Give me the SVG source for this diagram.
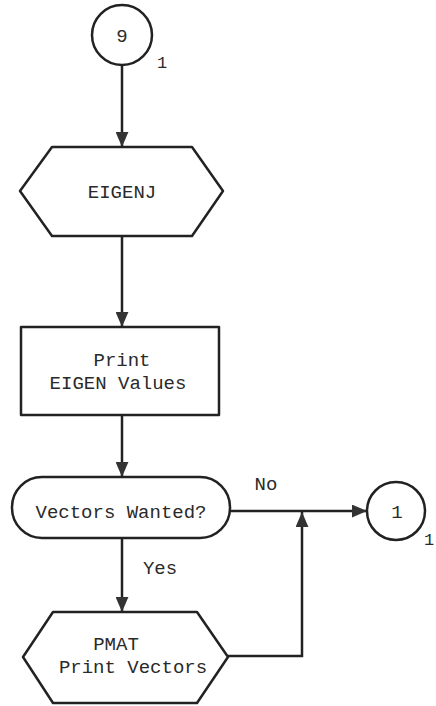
<svg xmlns="http://www.w3.org/2000/svg" width="436" height="706" viewBox="0 0 436 706">
<style>
.s{fill:#fff;stroke:#222;stroke-width:2.5;stroke-linejoin:round}
.l{fill:none;stroke:#222;stroke-width:2.5}
text{font-family:"Liberation Mono","DejaVu Sans Mono",monospace;font-size:19px;fill:#2a2a2a;text-anchor:middle}
.sm{font-size:17px;text-anchor:start}
</style>
<defs>
<marker id="a" viewBox="0 0 14 12" refX="14" refY="6" markerWidth="15" markerHeight="13" markerUnits="userSpaceOnUse" orient="auto">
<path d="M0,0 L14,6 L0,12 Z" fill="#333"/>
</marker>
</defs>
<rect width="436" height="706" fill="#fff"/>
<g id="connectors">
<line class="l" x1="122" y1="65" x2="122" y2="147" marker-end="url(#a)"/>
<line class="l" x1="122" y1="236" x2="122" y2="327" marker-end="url(#a)"/>
<line class="l" x1="122" y1="415" x2="122" y2="477" marker-end="url(#a)"/>
<line class="l" x1="122" y1="538" x2="122" y2="612" marker-end="url(#a)"/>
<line class="l" x1="230" y1="511" x2="367" y2="511" marker-end="url(#a)"/>
<polyline class="l" points="228,656 302,656 302,512" marker-end="url(#a)"/>
<text x="266" y="490">No</text>
<text x="160" y="574">Yes</text>
</g>
<g id="start">
<circle class="s" cx="122" cy="35" r="30"/>
<text x="122" y="42">9</text>
<text class="sm" x="157" y="68">1</text>
</g>
<g id="eigenj">
<polygon class="s" points="20,191 52,147 192,147 223,191 192,236 52,236"/>
<text x="122" y="198">EIGENJ</text>
</g>
<g id="print-eigen">
<rect class="s" x="21" y="327" width="198" height="88"/>
<text x="122" y="366">Print</text>
<text x="118" y="389">EIGEN Values</text>
</g>
<g id="vectors-wanted">
<rect class="s" x="12" y="477" width="218" height="61" rx="30" ry="30"/>
<text x="121" y="518">Vectors Wanted?</text>
</g>
<g id="pmat">
<polygon class="s" points="23,657 53,612 197,612 228,657 197,703 53,703"/>
<text x="116" y="650">PMAT</text>
<text x="133" y="673">Print Vectors</text>
</g>
<g id="end">
<circle class="s" cx="396" cy="511" r="29"/>
<text x="397" y="518">1</text>
<text class="sm" x="424" y="545">1</text>
</g>
</svg>
